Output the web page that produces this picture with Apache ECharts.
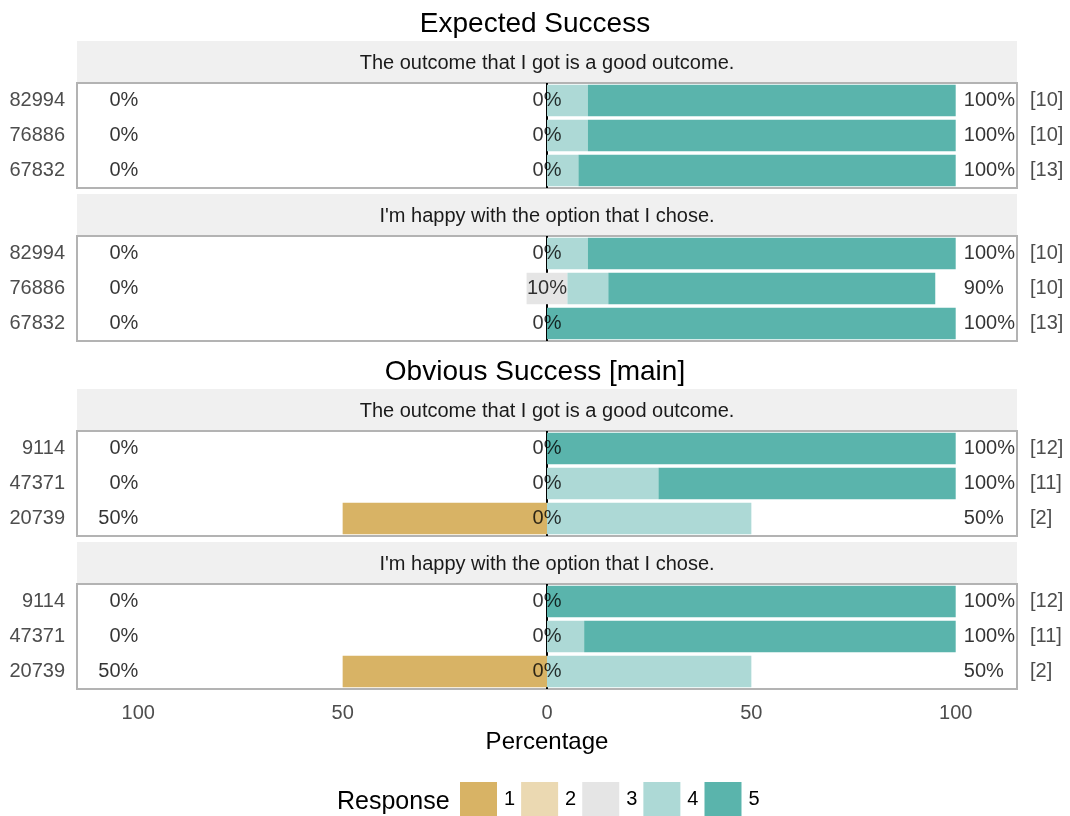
<!DOCTYPE html>
<html>
<head>
<meta charset="utf-8">
<script src="https://cdn.jsdelivr.net/npm/echarts@6/dist/echarts.min.js"></script>
<style>
  html, body { margin: 0; padding: 0; background: #fff; }
  #chart { width: 1070px; height: 816px; }
</style>
</head>
<body>
<div id="chart"></div>
<script>
// facet titles and strip texts
const groupTitles = ['Expected Success', 'Obvious Success [main]'];
const questions = ['The outcome that I got is a good outcome.', "I'm happy with the option that I chose."];
// respondent ids per group (top to bottom) and the n shown on the right
const groupIds = [['82994', '76886', '67832'], ['9114', '47371', '20739']];
const groupCounts = [[10, 10, 13], [12, 11, 2]];

// percentages per response level, 4 panels x 3 rows
// panel order: Expected/good, Expected/happy, Obvious/good, Obvious/happy
const resp1 = [0, 0, 0,   0, 0, 0,     0, 0, 50,       0, 0, 50];
const resp2 = [0, 0, 0,   0, 0, 0,     0, 0, 0,        0, 0, 0];
const resp3 = [0, 0, 0,   0, 10, 0,    0, 0, 0,        0, 0, 0];
const resp4 = [10, 10, 7.69,  10, 10, 0,   0, 27.27, 50,   0, 9.09, 50];
const resp5 = [90, 90, 92.31, 90, 80, 100, 100, 72.73, 0,  100, 90.91, 0];

const xTicks = [-100, -50, 0, 50, 100];
const levels = ['1', '2', '3', '4', '5'];
const colors = ['#D8B365', '#EBD9B2', '#E5E5E5', '#ADD9D6', '#5AB4AC'];

const FONT = 'Liberation Sans';
const chart = echarts.init(document.getElementById('chart'));

// panel boxes in pixels
const panelTops = [83, 236, 431, 584];
const panelH = 105;
const stripH = 41;
const L = 77, W = 940;

const grids = [], xAxes = [], yAxes = [], series = [], graphics = [];

panelTops.forEach((top, p) => {
  const g = Math.floor(p / 2);
  const ids = groupIds[g];
  const last = p === panelTops.length - 1;
  grids.push({ left: L, top: top, width: W, height: panelH, show: true,
    borderColor: '#B3B3B3', borderWidth: 2, backgroundColor: '#fff' });
  xAxes.push({
    gridIndex: p, type: 'value', min: -115, max: 115,
    axisLine: { show: false }, axisTick: { show: false }, splitLine: { show: false },
    axisLabel: { show: last, customValues: xTicks, formatter: v => Math.abs(v),
      color: '#4D4D4D', fontSize: 20, fontFamily: FONT, margin: 14 },
    name: last ? 'Percentage' : '', nameLocation: 'middle', nameGap: 41,
    nameTextStyle: { color: '#000', fontSize: 24, fontFamily: FONT }
  });
  yAxes.push({
    gridIndex: p, type: 'category', inverse: true, data: ids,
    axisLine: { show: false }, axisTick: { show: false },
    axisLabel: { color: '#4D4D4D', fontSize: 20, fontFamily: FONT, margin: 12 }
  });
  yAxes.push({
    gridIndex: p, type: 'category', inverse: true, position: 'right',
    data: groupCounts[g].map(n => '[' + n + ']'),
    axisLine: { show: false }, axisTick: { show: false },
    axisLabel: { color: '#4D4D4D', fontSize: 20, fontFamily: FONT, margin: 13 }
  });

  const sl = a => a.slice(p * 3, p * 3 + 3);
  const r1 = sl(resp1), r2 = sl(resp2), r3 = sl(resp3), r4 = sl(resp4), r5 = sl(resp5);
  const bar = (name, data, ci) => ({
    name: name, type: 'bar', xAxisIndex: p, yAxisIndex: p * 2, stack: 'p' + p,
    barWidth: '90%', data: data, itemStyle: { color: colors[ci] }, z: 2,
    silent: true, animation: false
  });
  // negative side: half of neutral, then 2, then 1
  series.push(bar('3', r3.map(v => -v / 2), 2));
  series.push(bar('2', r2.map(v => -v), 1));
  series.push(bar('1', r1.map(v => -v), 0));
  // positive side: half of neutral, then 4, then 5
  series.push(bar('3', r3.map(v => v / 2), 2));
  series.push(bar('4', r4, 3));
  series.push(bar('5', r5, 4));

  const pct = v => Math.round(v) + '%';
  const txt = (xv, texts, align) => ({
    type: 'scatter', xAxisIndex: p, yAxisIndex: p * 2, symbolSize: 0, z: 4,
    silent: true, animation: false,
    data: ids.map((id, i) => [xv, id, texts[i]]),
    label: { show: true, position: 'inside', align: align, color: '#000',
      fontSize: 20, fontFamily: FONT, formatter: d => d.data[2] }
  });
  series.push(txt(-100, ids.map((_, i) => pct(r1[i] + r2[i])), 'right'));
  series.push(txt(0, ids.map((_, i) => pct(r3[i])), 'center'));
  series.push(txt(102, ids.map((_, i) => pct(r4[i] + r5[i])), 'left'));

  // zero line under the bars
  series.push({
    type: 'line', xAxisIndex: p, yAxisIndex: p * 2, data: [], silent: true,
    markLine: { z: 1, symbol: 'none', silent: true, animation: false, label: { show: false },
      lineStyle: { color: '#000', width: 2, type: 'solid' }, data: [{ xAxis: 0 }] }
  });

  // strip
  graphics.push({ type: 'rect', shape: { x: L, y: top - stripH - 1, width: W, height: stripH },
    style: { fill: '#F0F0F0' }, silent: true });
  graphics.push({ type: 'text', x: L + W / 2, y: top - stripH / 2 + 1,
    style: { text: questions[p % 2], fill: '#1A1A1A', fontSize: 20, fontFamily: FONT,
      align: 'center', verticalAlign: 'middle' }, silent: true });
});

graphics.push({ type: 'text', x: 337, y: 802,
  style: { text: 'Response', fill: '#000', fontSize: 25, fontFamily: FONT,
    align: 'left', verticalAlign: 'middle' } });

chart.setOption({
  animation: false,
  title: [
    { text: groupTitles[0], left: 'center', top: 5,
      textStyle: { fontSize: 28, fontWeight: 'normal', color: '#000', fontFamily: FONT } },
    { text: groupTitles[1], left: 'center', top: 353,
      textStyle: { fontSize: 28, fontWeight: 'normal', color: '#000', fontFamily: FONT } }
  ],
  legend: {
    data: levels, left: 455, top: 777, itemWidth: 37, itemHeight: 34, itemGap: 6,
    icon: 'rect', selectedMode: false,
    textStyle: { color: '#000', fontSize: 20, fontFamily: FONT, padding: [5, 0, 0, 2] }
  },
  grid: grids,
  xAxis: xAxes,
  yAxis: yAxes,
  series: series,
  graphic: graphics
});
</script>
</body>
</html>
